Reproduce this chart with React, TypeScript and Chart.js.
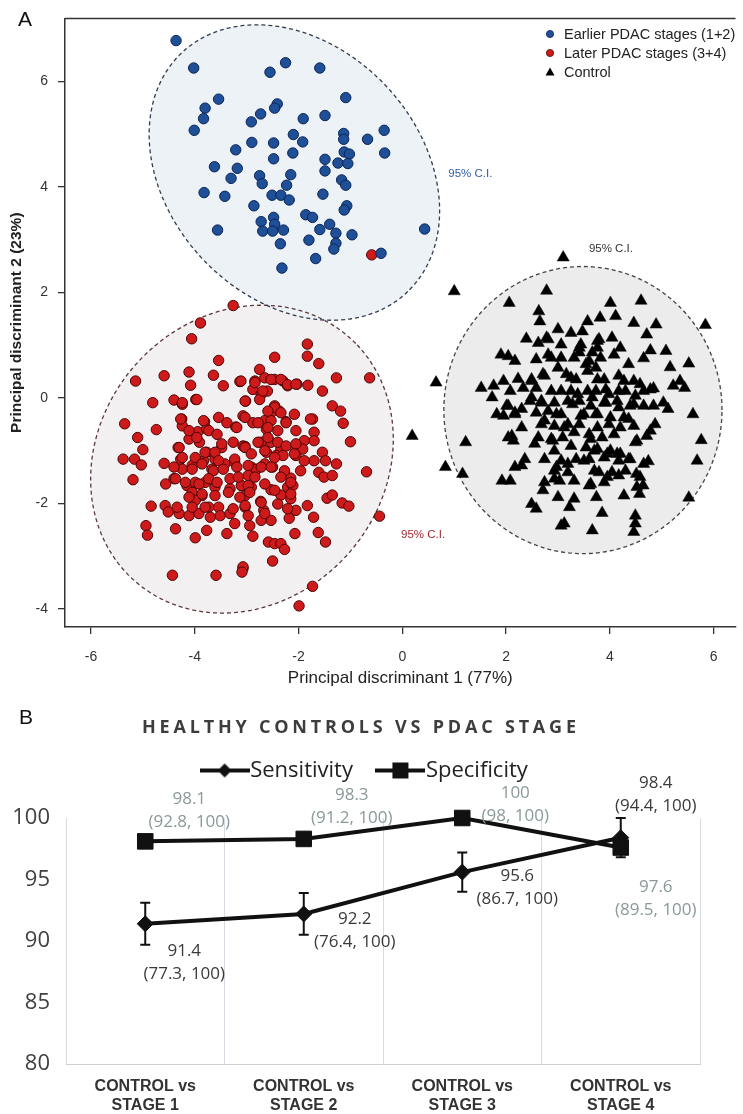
import React, { useEffect, useRef } from 'react';
import { Chart, registerables } from 'chart.js';

Chart.register(...registerables);

// ---------------- Panel A data ----------------
const xTicksA = [-6, -4, -2, 0, 2, 4, 6];
const yTicksA = [-4, -2, 0, 2, 4, 6];

const earlyStages: number[][] = [
  [-4.36, 6.77], [-4.02, 6.25], [-2.55, 6.17], [-2.25, 6.35], [-1.59, 6.25], [-1.09, 5.69], [-3.54, 5.66],
  [-3.8, 5.49], [-3.83, 5.29], [-4.01, 5.07], [-2.41, 5.57], [-2.46, 5.49], [-2.73, 5.38], [-2.91, 5.23],
  [-1.91, 5.29], [-1.49, 5.35], [-0.35, 5.07], [-0.67, 4.9], [-1.13, 5.01], [-1.13, 4.9], [-2.1, 4.99],
  [-1.92, 4.85], [-2.9, 4.84], [-2.48, 4.83], [-3.21, 4.7], [-0.34, 4.64], [-2.48, 4.53], [-2.11, 4.64],
  [-1.12, 4.66], [-1.02, 4.62], [-1.49, 4.52], [-1.24, 4.45], [-1.05, 4.44], [-1.49, 4.3], [-3.62, 4.38],
  [-3.18, 4.35], [-3.3, 4.16], [-2.75, 4.21], [-2.7, 4.06], [-2.15, 4.23], [-2.23, 4.03], [-1.17, 4.13],
  [-1.09, 4.03], [-3.82, 3.89], [-3.42, 3.82], [-2.51, 3.84], [-2.34, 3.84], [-2.18, 3.75], [-1.53, 3.86],
  [-2.86, 3.64], [-1.07, 3.64], [-1.12, 3.56], [-1.86, 3.47], [-1.73, 3.42], [-2.48, 3.42], [-2.72, 3.34],
  [-2.46, 3.29], [-1.4, 3.29], [-3.56, 3.18], [-2.69, 3.16], [-2.5, 3.16], [-2.29, 3.18], [-1.59, 3.19],
  [-1.28, 3.12], [-0.97, 3.09], [0.43, 3.2], [-1.8, 2.99], [-1.28, 2.93], [-1.32, 2.82], [-2.35, 2.92],
  [-0.41, 2.74], [-1.67, 2.64], [-2.32, 2.46],
];

const laterStages: number[][] = [
  [-3.26, 1.75], [-3.89, 1.42], [-4.06, 1.12], [-3.54, 0.71], [-5.14, 0.32], [-4.59, 0.42], [-4.11, 0.49],
  [-3.64, 0.43], [-4.08, 0.24], [-3.45, 0.23], [-3.13, 0.31], [-4.81, -0.09], [-4.4, -0.04], [-4.24, -0.12],
  [-3.98, -0.03], [-5.35, -0.49], [-4.74, -0.6], [-4.25, -0.4], [-4.24, -0.53], [-3.81, -0.45], [-3.54, -0.37],
  [-3.38, -0.47], [-3.21, -0.55], [-5.1, -0.75], [-5.0, -0.98], [-5.38, -1.16], [-5.16, -1.16], [-5.03, -1.27],
  [-4.59, -1.24], [-4.32, -0.94], [-4.11, -0.78], [-3.94, -0.64], [-3.77, -0.59], [-3.91, -0.84], [-3.77, -1.03],
  [-3.61, -1.16], [-3.48, -0.94], [-3.26, -0.84], [-3.07, -0.91], [-4.27, -1.16], [-4.05, -1.28], [-3.83, -1.19],
  [-4.24, -1.35], [-3.67, -1.35], [-3.42, -1.25], [-3.23, -1.22], [-5.19, -1.55], [-4.56, -1.63], [-4.4, -1.53],
  [-4.15, -1.66], [-3.99, -1.6], [-3.8, -1.6], [-3.61, -1.69], [-4.05, -1.79], [-3.86, -1.85], [-3.32, -1.72],
  [-3.1, -1.66], [-3.99, -1.94], [-4.84, -2.05], [-4.57, -2.04], [-4.51, -2.16], [-4.3, -2.19], [-4.11, -2.23],
  [-3.92, -2.19], [-3.73, -2.07], [-3.54, -2.07], [-3.51, -2.23], [-3.7, -2.26], [-3.32, -2.19], [-3.23, -2.38],
  [-4.94, -2.42], [-4.91, -2.6], [-4.37, -2.48], [-3.77, -2.51], [-3.99, -2.65], [-3.38, -2.57], [-4.43, -3.36],
  [-3.59, -3.36], [-3.07, -3.23],
  [-1.83, 1.02], [-1.83, 0.79], [-1.61, 0.65], [-2.46, 0.77], [-2.75, 0.54], [-3.11, 0.32], [-2.84, 0.32],
  [-2.88, 0.16], [-2.65, 0.38], [-2.46, 0.35], [-2.3, 0.32], [-2.21, 0.23], [-2.03, 0.26], [-1.82, 0.24],
  [-1.54, 0.13], [-1.27, 0.38], [-0.63, 0.38], [-2.72, 0.07], [-2.6, 0.13], [-3.02, -0.06], [-2.75, -0.03],
  [-1.35, -0.15], [-1.19, -0.25], [-2.46, -0.15], [-2.37, -0.25], [-2.53, -0.28], [-2.08, -0.31], [-3.07, -0.34],
  [-2.88, -0.47], [-2.65, -0.43], [-2.53, -0.43], [-2.24, -0.45], [-1.73, -0.4], [-1.14, -0.48], [-2.62, -0.59],
  [-2.4, -0.62], [-2.05, -0.62], [-1.7, -0.65], [-1.7, -0.81], [-1.89, -0.81], [-1.0, -0.83], [-3.03, -0.92],
  [-2.72, -0.84], [-2.53, -0.84], [-2.34, -0.97], [-2.08, -0.94], [-1.92, -0.97], [-2.62, -1.03], [-2.43, -1.09],
  [-2.3, -1.09], [-2.05, -1.09], [-1.54, -1.03], [-1.7, -1.19], [-1.48, -1.19], [-1.27, -1.25], [-0.69, -1.4],
  [-1.61, -1.41], [-1.51, -1.5], [-1.35, -1.47], [-2.91, -1.31], [-2.65, -1.25], [-2.5, -1.31], [-2.27, -1.41],
  [-2.97, -1.47], [-2.81, -1.35], [-2.15, -1.52], [-3.1, -1.66], [-2.91, -1.69], [-2.21, -1.69], [-2.11, -1.66],
  [-2.53, -1.74], [-2.34, -1.84], [-2.15, -1.91], [-1.45, -1.9], [-1.35, -1.84], [-1.16, -1.99], [-1.03, -2.05],
  [-3.03, -1.85], [-2.73, -1.96], [-2.67, -2.13], [-3.03, -2.07], [-2.05, -2.13], [-1.83, -2.04], [-2.18, -2.28],
  [-1.71, -2.26], [-0.44, -2.24], [-2.53, -2.32], [-2.72, -2.32], [-2.94, -2.42], [-2.88, -2.62], [-2.07, -2.57],
  [-1.62, -2.55], [-1.48, -2.73], [-2.58, -2.73], [-2.46, -2.76], [-2.34, -2.76], [-2.27, -2.87], [-2.5, -3.09],
  [-3.07, -3.2], [-3.09, -3.3], [-1.73, -3.57], [-1.99, -3.94], [-0.59, 2.71],
  [-2.84, 0.29], [-2.53, 0.35], [-2.34, 0.35], [-2.21, 0.25], [-2.05, 0.26], [-2.69, 0.13], [-4.24, -0.09],
  [-3.96, -0.03], [-3.03, -0.06], [-2.46, -0.18], [-2.59, -0.25], [-2.34, -0.28], [-4.27, -0.4], [-3.83, -0.43],
  [-3.19, -0.56], [-3.03, -0.37], [-2.78, -0.47], [-2.59, -0.56], [-2.24, -0.47], [-1.77, -0.4], [-4.11, -0.62],
  [-3.96, -0.75], [-3.73, -0.62], [-3.57, -0.69], [-3.48, -0.87], [-3.03, -0.94], [-2.78, -0.84], [-2.59, -0.75],
  [-2.4, -0.84], [-2.24, -0.91], [-2.05, -0.87], [-4.3, -0.94], [-4.24, -1.13], [-3.99, -1.13], [-3.8, -1.03],
  [-3.61, -1.03], [-3.54, -1.19], [-3.23, -1.16], [-2.91, -1.06], [-2.65, -1.0], [-2.46, -1.13], [-2.08, -1.06],
  [-1.89, -1.19], [-4.4, -1.31], [-4.05, -1.35], [-3.86, -1.25], [-3.64, -1.38], [-3.45, -1.35], [-3.19, -1.31],
  [-2.97, -1.28], [-2.72, -1.31], [-2.53, -1.31], [-2.27, -1.38], [-1.96, -1.38], [-4.37, -1.53], [-4.18, -1.6],
  [-3.92, -1.63], [-3.73, -1.53], [-3.57, -1.6], [-3.32, -1.53], [-3.16, -1.5], [-2.97, -1.66], [-2.84, -1.5],
  [-2.65, -1.63], [-2.34, -1.5], [-2.15, -1.6], [-2.46, -1.75], [-2.15, -1.82], [-3.86, -1.82], [-3.61, -1.85],
  [-3.35, -1.79], [-3.13, -1.88], [-2.94, -1.79], [-4.11, -1.88], [-4.34, -2.07], [-4.05, -2.07], [-3.8, -2.07],
  [-3.26, -2.1], [-3.03, -2.04], [-2.72, -1.98], [-2.4, -2.01], [-2.21, -2.1], [-2.65, -2.19], [-2.97, -2.23],
];

const controls: number[][] = [
  [1.0, 2.02], [2.06, 1.8], [2.78, 2.03], [3.1, 2.66], [2.63, 1.64], [2.65, 1.45], [3.0, 1.3], [2.39, 1.12],
  [2.62, 1.04], [2.81, 1.11], [1.9, 0.82], [2.04, 0.79], [2.17, 0.7], [2.58, 0.73], [2.87, 0.76], [0.65, 0.29],
  [1.52, 0.19], [1.76, 0.23], [1.95, 0.32], [2.23, 0.36], [2.49, 0.32], [2.71, 0.45], [1.73, 0.01], [2.04, -0.15],
  [2.3, -0.21], [2.49, 0.01], [2.68, -0.09], [1.82, -0.31], [1.95, -0.34], [2.17, -0.31], [2.74, -0.43],
  [2.97, -0.31], [2.3, -0.56], [2.04, -0.75], [2.14, -0.81], [2.55, -0.87], [2.9, -0.81], [0.19, -0.72],
  [1.22, -0.84], [0.83, -1.31], [1.16, -1.44], [2.36, -1.16], [2.3, -1.28], [1.92, -1.57], [2.08, -1.57],
  [2.97, -1.31], [2.93, -1.53], [2.71, -1.75], [3.0, -1.88], [2.49, -2.01], [2.58, -2.1], [3.06, -2.42],
  [4.01, 1.8], [4.6, 1.84], [5.84, 1.38], [3.57, 1.45], [3.81, 1.52], [4.11, 1.55], [4.46, 1.42], [4.89, 1.39],
  [3.25, 1.23], [3.47, 1.26], [3.79, 1.11], [4.04, 1.14], [4.71, 1.2], [3.41, 0.95], [3.76, 0.95], [4.2, 0.95],
  [4.78, 0.9], [5.08, 0.89], [3.31, 0.76], [3.6, 0.7], [4.08, 0.82], [4.36, 0.64], [4.65, 0.75], [5.16, 0.58],
  [5.52, 0.65], [3.25, 0.38], [3.57, 0.51], [3.89, 0.35], [4.17, 0.42], [4.46, 0.32], [5.22, 0.23], [5.35, 0.32],
  [5.44, 0.19], [4.65, 0.13], [4.84, 0.18], [3.38, 0.07], [3.73, 0.13], [3.98, 0.07], [4.3, 0.13], [4.49, 0.04],
  [3.28, -0.12], [3.63, -0.15], [3.92, -0.09], [4.17, -0.18], [4.46, -0.12], [4.84, -0.15], [5.03, -0.09],
  [5.12, -0.21], [5.6, -0.31], [3.44, -0.34], [3.76, -0.31], [4.01, -0.37], [4.36, -0.4], [4.87, -0.5],
  [3.12, -0.56], [3.31, -0.65], [3.6, -0.69], [4.08, -0.69], [4.49, -0.84], [4.71, -0.72], [5.76, -0.8],
  [3.25, -0.91], [3.76, -0.97], [4.14, -1.06], [4.36, -1.16], [4.74, -1.2], [5.68, -1.19], [3.19, -1.25],
  [3.5, -1.19], [3.95, -1.06], [3.7, -1.38], [3.95, -1.5], [4.17, -1.47], [4.51, -1.44], [3.31, -1.57],
  [3.6, -1.66], [4.64, -1.66], [4.27, -1.85], [4.57, -1.82], [5.52, -1.89], [3.31, -1.91], [3.74, -1.88],
  [3.22, -2.07], [3.85, -2.18], [4.49, -2.23], [4.49, -2.38], [4.46, -2.54], [3.66, -2.51], [3.12, -2.38],
  [2.78, 1.14], [3.06, 1.01], [3.44, 1.01], [3.76, 1.08], [2.81, 0.82], [3.06, 0.76], [3.41, 0.86], [3.66, 0.86],
  [3.82, 0.76], [3.0, 0.57], [3.54, 0.64], [3.73, 0.57], [2.49, 0.35], [2.74, 0.42], [3.16, 0.45], [3.35, 0.35],
  [3.76, 0.35], [4.27, 0.32], [4.58, 0.26], [4.78, 0.16], [2.08, 0.13], [2.33, 0.19], [2.58, 0.19], [2.87, 0.13],
  [3.06, 0.13], [3.25, 0.13], [3.57, 0.13], [3.92, 0.16], [4.17, 0.13], [2.46, -0.06], [2.68, -0.06],
  [2.93, -0.09], [3.19, -0.06], [3.41, -0.06], [3.66, 0.01], [3.89, -0.09], [4.14, -0.06], [4.39, -0.15],
  [4.65, -0.15], [2.01, -0.15], [2.17, -0.28], [2.58, -0.28], [2.81, -0.25], [3.06, -0.31], [3.5, -0.31],
  [3.73, -0.31], [4.27, -0.37], [2.68, -0.5], [2.93, -0.53], [3.19, -0.5], [3.41, -0.5], [3.76, -0.56],
  [3.98, -0.5], [4.2, -0.56], [4.46, -0.53], [4.78, -0.62], [2.11, -0.72], [2.62, -0.75], [2.87, -0.78],
  [3.09, -0.75], [3.63, -0.78], [3.85, -0.75], [4.52, -0.81], [2.93, -1.0], [3.54, -0.94], [3.7, -1.0],
  [4.01, -1.0], [4.2, -1.06], [2.74, -1.16], [3.06, -1.19], [3.35, -1.16], [3.6, -1.16], [3.89, -1.13],
  [4.17, -1.19], [4.39, -1.16], [4.65, -1.25], [2.17, -1.31], [2.93, -1.38], [3.19, -1.41], [3.79, -1.41],
  [4.04, -1.41], [4.3, -1.38], [4.58, -1.5], [2.74, -1.6], [3.03, -1.57], [3.63, -1.63], [3.89, -1.6],
  [4.52, -1.69],
];

// 95% confidence ellipses (data units): centre, semi-axes, rotation in degrees
const ellipseCenters = [[-3.09, -1.16], [-2.08, 4.27], [3.48, -0.23]];
const ellipseRadii = [[3.1, 2.72], [3.14, 2.41], [2.68, 2.72]];
const ellipseAngles = [45, -45, 0];
const ellipseLabelPos = [[0.4, -2.6], [1.31, 4.25], [4.02, 2.83]];

const legendLabelsA = ['Earlier PDAC stages (1+2)', 'Later PDAC stages (3+4)', 'Control'];

// ---------------- Panel B data ----------------
const categoriesB = [
  ['CONTROL vs', 'STAGE 1'],
  ['CONTROL vs', 'STAGE 2'],
  ['CONTROL vs', 'STAGE 3'],
  ['CONTROL vs', 'STAGE 4'],
];
const sensitivity = [91.4, 92.2, 95.6, 98.4];
const specificity = [98.1, 98.3, 100, 97.6];
const sensitivityErr = [1.7, 1.7, 1.6, 1.6];
const sensitivityCI = [[77.3, 100], [76.4, 100], [86.7, 100], [94.4, 100]];
const specificityCI = [[92.8, 100], [91.2, 100], [98, 100], [89.5, 100]];

// ---------------- styles ----------------
const ARIAL = "'Liberation Sans', Arial, sans-serif";
const OPEN = "'Open Sans', 'Noto Sans', sans-serif";
const BLUE = '#1e4f97';
const BLUE_EDGE = '#0a2556';
const RED = '#cf1a1c';
const RED_EDGE = '#4d0505';
const ELL_FILL = ['#f2f0f0', '#edf2f7', '#ececec'];
const ELL_STROKE = ['#5a3838', '#333c4c', '#444444'];
const ELL_TEXT = ['#a0282d', '#2f5fa8', '#333333'];

const toPts = (arr: number[][]) => arr.map(([x, y]) => ({ x, y }));

function PanelA() {
  const ref = useRef<HTMLCanvasElement>(null);
  useEffect(() => {
    const canvas = ref.current as HTMLCanvasElement;
    const ellipsePlugin = {
      id: 'ciEllipses',
      beforeDatasetsDraw(chart: any) {
        const { ctx } = chart;
        const xs = chart.scales.x;
        const ys = chart.scales.y;
        const paths: Path2D[] = ellipseCenters.map((c, i) => {
          const p = new Path2D();
          const th = (ellipseAngles[i] * Math.PI) / 180;
          const [rx, ry] = ellipseRadii[i];
          for (let k = 0; k <= 180; k++) {
            const t = (k / 180) * Math.PI * 2;
            const dx = rx * Math.cos(t);
            const dy = ry * Math.sin(t);
            const X = c[0] + dx * Math.cos(th) - dy * Math.sin(th);
            const Y = c[1] + dx * Math.sin(th) + dy * Math.cos(th);
            const px = xs.getPixelForValue(X);
            const py = ys.getPixelForValue(Y);
            if (k === 0) p.moveTo(px, py);
            else p.lineTo(px, py);
          }
          p.closePath();
          return p;
        });
        ctx.save();
        paths.forEach((p, i) => {
          ctx.fillStyle = ELL_FILL[i];
          ctx.fill(p);
        });
        ctx.setLineDash([4, 3]);
        ctx.lineWidth = 1.3;
        paths.forEach((p, i) => {
          ctx.strokeStyle = ELL_STROKE[i];
          ctx.stroke(p);
        });
        ctx.restore();
      },
    };
    const decoPlugin = {
      id: 'decoA',
      afterDraw(chart: any) {
        const { ctx, chartArea } = chart;
        const xs = chart.scales.x;
        const ys = chart.scales.y;
        ctx.save();
        ctx.strokeStyle = '#333';
        ctx.lineWidth = 1.5;
        ctx.beginPath();
        ctx.moveTo(chartArea.left, chartArea.top);
        ctx.lineTo(chartArea.right, chartArea.top);
        ctx.stroke();
        ctx.font = `11.5px ${ARIAL}`;
        ctx.textAlign = 'center';
        ctx.textBaseline = 'middle';
        ellipseLabelPos.forEach((p, i) => {
          ctx.fillStyle = ELL_TEXT[i];
          ctx.fillText('95% C.I.', xs.getPixelForValue(p[0]), ys.getPixelForValue(p[1]));
        });
        const lx = 550;
        const rows = [34, 53, 72];
        ctx.font = `14.5px ${ARIAL}`;
        ctx.textAlign = 'left';
        legendLabelsA.forEach((t, i) => {
          const y = rows[i];
          ctx.beginPath();
          if (i < 2) {
            ctx.arc(lx, y, 3.6, 0, Math.PI * 2);
            ctx.fillStyle = i === 0 ? BLUE : RED;
            ctx.fill();
            ctx.lineWidth = 0.8;
            ctx.strokeStyle = i === 0 ? BLUE_EDGE : RED_EDGE;
            ctx.stroke();
          } else {
            ctx.moveTo(lx, y - 4.5);
            ctx.lineTo(lx + 4.5, y + 3.5);
            ctx.lineTo(lx - 4.5, y + 3.5);
            ctx.closePath();
            ctx.fillStyle = '#000';
            ctx.fill();
          }
          ctx.fillStyle = '#222';
          ctx.fillText(t, lx + 14, y + 1);
        });
        ctx.font = `21px ${ARIAL}`;
        ctx.fillStyle = '#111';
        ctx.textAlign = 'center';
        ctx.fillText('A', 25, 20);
        ctx.restore();
      },
    };
    const chart = new Chart(canvas, {
      type: 'scatter',
      data: {
        datasets: [
          {
            label: legendLabelsA[0],
            data: toPts(earlyStages),
            backgroundColor: BLUE,
            borderColor: BLUE_EDGE,
            borderWidth: 1,
            pointRadius: 5.2,
            pointStyle: 'circle',
          },
          {
            label: legendLabelsA[1],
            data: toPts(laterStages),
            backgroundColor: RED,
            borderColor: RED_EDGE,
            borderWidth: 1,
            pointRadius: 5.2,
            pointStyle: 'circle',
          },
          {
            label: legendLabelsA[2],
            data: toPts(controls),
            backgroundColor: '#000',
            borderColor: '#111',
            borderWidth: 0.5,
            pointRadius: 7,
            pointStyle: 'triangle',
          },
        ],
      },
      options: {
        responsive: false,
        animation: false,
        layout: { padding: { top: 16, left: 0, right: 0, bottom: 0 } },
        plugins: { legend: { display: false }, tooltip: { enabled: false } },
        scales: {
          x: {
            type: 'linear',
            min: -6.5,
            max: 6.42,
            afterBuildTicks: (s: any) => {
              s.ticks = xTicksA.map((v) => ({ value: v }));
            },
            afterFit: (s: any) => {
              s.height = 73;
            },
            grid: { display: true, drawOnChartArea: false, drawTicks: true, tickLength: 7, color: '#333', lineWidth: 1.3 },
            border: { display: true, color: '#333', width: 1.5 },
            ticks: { font: { family: ARIAL, size: 14 }, color: '#333', padding: 15, maxRotation: 0 },
            title: {
              display: true,
              text: 'Principal discriminant 1 (77%)',
              font: { family: ARIAL, size: 17 },
              color: '#222',
              padding: { top: 0, bottom: 11 },
            },
          },
          y: {
            type: 'linear',
            min: -4.34,
            max: 7.19,
            afterBuildTicks: (s: any) => {
              s.ticks = yTicksA.map((v) => ({ value: v }));
            },
            afterFit: (s: any) => {
              s.width = 65;
            },
            grid: { display: true, drawOnChartArea: false, drawTicks: true, tickLength: 7, color: '#333', lineWidth: 1.3 },
            border: { display: true, color: '#333', width: 1.5 },
            ticks: { font: { family: ARIAL, size: 14 }, color: '#333', padding: 10 },
            title: {
              display: true,
              text: 'Principal discriminant 2 (23%)',
              font: { family: ARIAL, size: 15.5, weight: 'bold' },
              color: '#222',
              padding: { top: 7.5, bottom: 0 },
            },
          },
        },
      } as any,
      plugins: [ellipsePlugin, decoPlugin],
    });
    return () => chart.destroy();
  }, []);
  return (
    <canvas
      ref={ref}
      width={743}
      height={700}
      style={{ position: 'absolute', left: 0, top: 0, width: 743, height: 700 }}
    />
  );
}

function makeLegendImage(kind: 'diamond' | 'square') {
  const c = document.createElement('canvas');
  c.width = 50;
  c.height = 20;
  const g = c.getContext('2d') as CanvasRenderingContext2D;
  g.fillStyle = '#111';
  g.strokeStyle = '#111';
  g.lineWidth = 4;
  g.beginPath();
  g.moveTo(0, 10);
  g.lineTo(50, 10);
  g.stroke();
  g.beginPath();
  if (kind === 'diamond') {
    g.moveTo(25, 3);
    g.lineTo(32, 10);
    g.lineTo(25, 17);
    g.lineTo(18, 10);
    g.closePath();
  } else {
    g.rect(17, 2, 16, 16);
  }
  g.fill();
  return c;
}

function PanelB() {
  const ref = useRef<HTMLCanvasElement>(null);
  useEffect(() => {
    const canvas = ref.current as HTMLCanvasElement;
    const legendImages = [makeLegendImage('diamond'), makeLegendImage('square')];
    const errorBarPlugin = {
      id: 'errBars',
      afterDatasetsDraw(chart: any) {
        const { ctx } = chart;
        const xs = chart.scales.x;
        const ys = chart.scales.y;
        ctx.save();
        ctx.strokeStyle = '#111';
        ctx.lineWidth = 2;
        sensitivity.forEach((v, i) => {
          const x = xs.getPixelForValue(i);
          const y1 = ys.getPixelForValue(v + sensitivityErr[i]);
          const y2 = ys.getPixelForValue(v - sensitivityErr[i]);
          ctx.beginPath();
          ctx.moveTo(x, y1);
          ctx.lineTo(x, y2);
          ctx.moveTo(x - 5, y1);
          ctx.lineTo(x + 5, y1);
          ctx.moveTo(x - 5, y2);
          ctx.lineTo(x + 5, y2);
          ctx.stroke();
        });
        ctx.restore();
      },
    };
    const sensOffsets = [[39, 27], [51, 5], [55, 4], [35, -55]];
    const specOffsets = [[44, -42], [48, -44], [53, -25], [35, 40]];
    const labelPlugin = {
      id: 'valueLabels',
      afterDatasetsDraw(chart: any) {
        const { ctx } = chart;
        ctx.save();
        ctx.font = `17px ${OPEN}`;
        ctx.textAlign = 'center';
        ctx.textBaseline = 'middle';
        const draw = (dsIndex: number, values: number[], ci: number[][], offs: number[][], color: string) => {
          const meta = chart.getDatasetMeta(dsIndex);
          values.forEach((v, i) => {
            const el = meta.data[i];
            const x = el.x + offs[i][0];
            const y = el.y + offs[i][1];
            ctx.fillStyle = color;
            ctx.fillText(String(v), x, y);
            ctx.fillText(`(${ci[i][0]}, ${ci[i][1]})`, x, y + 23);
          });
        };
        draw(0, sensitivity, sensitivityCI, sensOffsets, '#3a3a3a');
        draw(1, specificity, specificityCI, specOffsets, '#8a9999');
        ctx.restore();
      },
    };
    const titlePlugin = {
      id: 'spacedTitle',
      afterDraw(chart: any) {
        const { ctx } = chart;
        const text = 'HEALTHY CONTROLS VS PDAC STAGE';
        ctx.save();
        ctx.font = `bold 18px ${OPEN}`;
        const w = ctx.measureText(text).width;
        const spacing = Math.max(0, (434 - w) / (text.length - 1));
        (ctx as any).letterSpacing = `${spacing}px`;
        ctx.fillStyle = '#3d3d3d';
        ctx.textAlign = 'left';
        ctx.textBaseline = 'middle';
        ctx.fillText(text, 359 - 217, 28);
        (ctx as any).letterSpacing = '0px';
        ctx.font = `21px ${ARIAL}`;
        ctx.fillStyle = '#111';
        ctx.textAlign = 'center';
        ctx.fillText('B', 26, 18);
        ctx.restore();
      },
    };
    const chart = new Chart(canvas, {
      type: 'line',
      data: {
        labels: categoriesB as any,
        datasets: [
          {
            label: 'Sensitivity',
            data: sensitivity,
            xAxisID: 'x',
            yAxisID: 'y',
            borderColor: '#111',
            backgroundColor: '#111',
            borderWidth: 4,
            pointStyle: 'rectRot',
            pointRadius: 8,
            pointBackgroundColor: '#111',
            pointBorderColor: '#111',
            pointBorderWidth: 1,
            clip: false,
            tension: 0,
          },
          {
            label: 'Specificity',
            data: specificity,
            xAxisID: 'x',
            yAxisID: 'y',
            borderColor: '#111',
            backgroundColor: '#111',
            borderWidth: 4,
            pointStyle: 'rect',
            pointRadius: 11,
            pointBackgroundColor: '#111',
            pointBorderColor: '#111',
            pointBorderWidth: 1,
            clip: false,
            tension: 0,
          },
        ],
      },
      options: {
        responsive: false,
        animation: false,
        layout: { padding: { top: 26.5, left: 0, right: 5, bottom: 0 } },
        plugins: {
          tooltip: { enabled: false },
          legend: {
            display: true,
            position: 'top',
            labels: {
              usePointStyle: true,
              pointStyleWidth: 29,
              padding: 33,
              font: { family: OPEN, size: 22 },
              color: '#222',
              generateLabels: (ch: any) => {
                const items = (Chart as any).defaults.plugins.legend.labels.generateLabels(ch);
                items.forEach((it: any, i: number) => {
                  it.pointStyle = legendImages[i];
                });
                return items;
              },
            },
          },
        },
        scales: {
          x: {
            type: 'category',
            position: 'bottom',
            offset: true,
            grid: { display: true, offset: true, drawTicks: false, color: '#d6dce2', lineWidth: 1 },
            border: { display: true, color: '#d0d0d0', width: 1 },
            ticks: { font: { family: ARIAL, size: 16, weight: 'bold' }, color: '#333', padding: 13, maxRotation: 0, autoSkip: false },
            afterFit: (s: any) => {
              s.height = 50;
            },
          },
          xTop: {
            type: 'category',
            position: 'top',
            display: true,
            grid: { display: false, drawTicks: false },
            border: { display: false },
            ticks: { display: false },
            afterFit: (s: any) => {
              s.height = 26.5;
            },
          },
          y: {
            type: 'linear',
            position: 'left',
            min: 80,
            max: 100,
            ticks: { stepSize: 5, font: { family: OPEN, size: 22 }, color: '#404040', padding: 16 },
            grid: { display: false, drawTicks: false },
            border: { display: false },
            afterFit: (s: any) => {
              s.width = 66;
            },
          },
          yRight: {
            type: 'linear',
            position: 'right',
            display: true,
            grid: { display: false, drawTicks: false },
            border: { display: false },
            ticks: { display: false },
            afterFit: (s: any) => {
              s.width = 38;
            },
          },
        },
      } as any,
      plugins: [errorBarPlugin, labelPlugin, titlePlugin],
    });
    return () => chart.destroy();
  }, []);
  return (
    <canvas
      ref={ref}
      width={743}
      height={414}
      style={{ position: 'absolute', left: 0, top: 700, width: 743, height: 414 }}
    />
  );
}

export default function App() {
  return (
    <div style={{ position: 'absolute', left: 0, top: 0, width: 743, height: 1114, background: '#ffffff', overflow: 'hidden' }}>
      <PanelA />
      <PanelB />
    </div>
  );
}
